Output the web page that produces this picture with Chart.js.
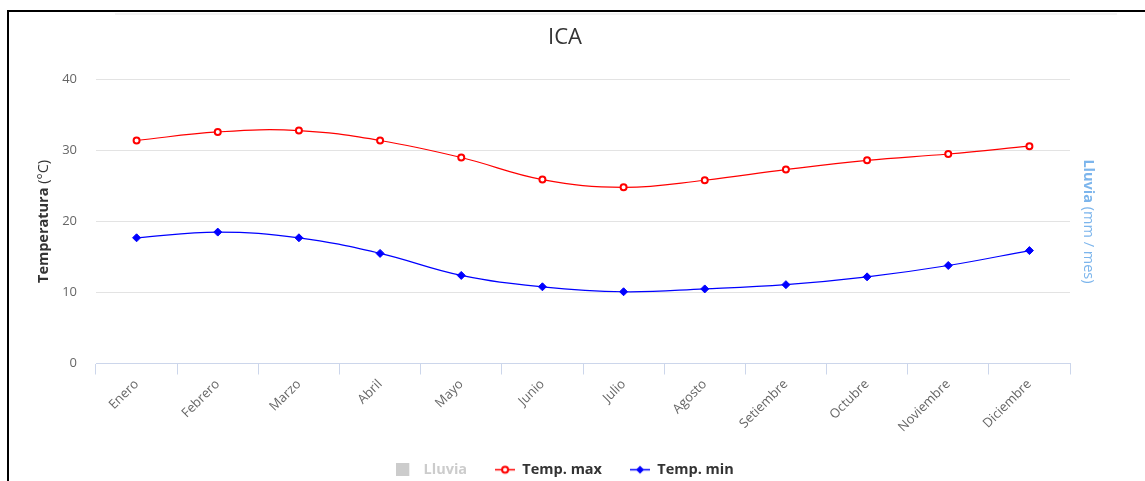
<!DOCTYPE html>
<html>
<head>
<meta charset="utf-8">
<script src="https://cdn.jsdelivr.net/npm/chart.js@4"></script>
<style>
  html, body { margin: 0; padding: 0; background: #fff; }
  #wrap { position: relative; width: 1145px; height: 481px; overflow: hidden; }
  #chartIca { position: absolute; left: 0; top: 0; }
  #frame { position: absolute; left: 7px; top: 10px; right: 0; bottom: 0;
           border-top: 2px solid #000; border-left: 2px solid #000; pointer-events: none; }
  #shade { position: absolute; left: 115px; top: 13px; width: 1002px; height: 2px;
           background: #f2f2f2; pointer-events: none; }
</style>
</head>
<body>
<div id="wrap">
  <canvas id="chartIca" width="1130" height="481"></canvas>
  <div id="shade"></div>
  <div id="frame"></div>
</div>
<script>
// datos
const meses = ["Enero", "Febrero", "Marzo", "Abril", "Mayo", "Junio",
    "Julio", "Agosto", "Setiembre", "Octubre", "Noviembre", "Diciembre"];
const tempMax = [31.4, 32.6, 32.8, 31.4, 29.0, 25.9, 24.8, 25.8, 27.3, 28.6, 29.5, 30.6];
const tempMin = [17.7, 18.5, 17.7, 15.5, 12.4, 10.8, 10.1, 10.5, 11.1, 12.2, 13.8, 15.9];
const lluvia = []; // serie oculta, sin valores visibles
const tempTicks = [0, 10, 20, 30, 40];

const FONT = "'Open Sans', sans-serif";

// simbolos de la leyenda (linea + marcador)
function legendIcon(kind) {
    const c = document.createElement("canvas");
    c.width = 20; c.height = 13;
    const g = c.getContext("2d");
    if (kind === "box") {
        g.fillStyle = "#cccccc";
        g.fillRect(0, 0, 13, 13);
        return c;
    }
    const col = kind === "max" ? "#ff0000" : "#0000ff";
    g.strokeStyle = col;
    g.lineWidth = 1.5;
    g.beginPath(); g.moveTo(0, 6.5); g.lineTo(20, 6.5); g.stroke();
    if (kind === "max") {
        g.beginPath(); g.arc(10, 6.5, 3, 0, Math.PI * 2);
        g.fillStyle = "#fff"; g.fill();
        g.lineWidth = 2; g.stroke();
    } else {
        g.fillStyle = col;
        g.beginPath();
        g.moveTo(10, 2.5); g.lineTo(14, 6.5); g.lineTo(10, 10.5); g.lineTo(6, 6.5);
        g.closePath(); g.fill();
    }
    return c;
}
const icons = { Lluvia: legendIcon("box"), "Temp. max": legendIcon("max"), "Temp. min": legendIcon("min") };

// titulos de ejes con parte en negrita
const axisTitles = {
    id: "axisTitles",
    afterDraw(chart) {
        const { ctx, chartArea } = chart;
        const cy = (chartArea.top + chartArea.bottom) / 2;
        function draw(x, rot, bold, normal, color) {
            ctx.save();
            ctx.translate(x, cy);
            ctx.rotate(rot);
            ctx.fillStyle = color;
            ctx.textBaseline = "middle";
            ctx.font = "bold 14.5px " + FONT;
            const w1 = ctx.measureText(bold).width;
            ctx.font = "14.5px " + FONT;
            const w2 = ctx.measureText(normal).width;
            let x0 = -(w1 + w2) / 2;
            ctx.font = "bold 14.5px " + FONT;
            ctx.fillText(bold, x0, 0);
            ctx.font = "14.5px " + FONT;
            ctx.fillText(normal, x0 + w1, 0);
            ctx.restore();
        }
        draw(44, -Math.PI / 2, "Temperatura", " (°C)", "#333333");
        draw(1088, Math.PI / 2, "Lluvia", " (mm / mes)", "#7cb5ec");
    }
};

const dataIca = {
    labels: meses,
    datasets: [
        {
            type: "bar",
            label: "Lluvia",
            data: lluvia,
            backgroundColor: "#7cb5ec",
            yAxisID: "y1",
            hidden: true,
        },
        {
            label: "Temp. max",
            data: tempMax,
            borderColor: "#ff0000",
            backgroundColor: "#ff0000",
            borderWidth: 1.2,
            tension: 0.4,
            pointStyle: "circle",
            pointRadius: 3,
            pointBorderWidth: 2,
            pointBackgroundColor: "#ffffff",
            pointBorderColor: "#ff0000",
            yAxisID: "y",
        },
        {
            label: "Temp. min",
            data: tempMin,
            borderColor: "#0000ff",
            backgroundColor: "#0000ff",
            borderWidth: 1.2,
            tension: 0.4,
            pointStyle: "rectRot",
            pointRadius: 4,
            pointBorderWidth: 1,
            pointBackgroundColor: "#0000ff",
            pointBorderColor: "#0000ff",
            yAxisID: "y",
        },
    ],
};

const configIca = {
    type: "line",
    data: dataIca,
    plugins: [axisTitles],
    options: {
        responsive: false,
        animation: false,
        layout: { padding: { left: 0, right: 0, top: 0, bottom: -6 } },
        plugins: {
            title: {
                display: true,
                text: "ICA",
                color: "#333333",
                font: { family: FONT, size: 22, weight: "normal" },
                padding: { top: 25, bottom: 28 },
            },
            legend: {
                position: "bottom",
                labels: {
                    usePointStyle: true,
                    pointStyleWidth: 20,
                    padding: 28,
                    font: { family: FONT, size: 14.5, weight: "bold" },
                    generateLabels(chart) {
                        const items = Chart.defaults.plugins.legend.labels.generateLabels(chart);
                        return items.map((it) => {
                            it.pointStyle = icons[it.text];
                            it.fontColor = it.hidden ? "#cccccc" : "#333333";
                            it.hidden = false;
                            return it;
                        });
                    },
                },
            },
            tooltip: { enabled: false },
        },
        scales: {
            x: {
                offset: true,
                grid: {
                    offset: true,
                    drawOnChartArea: false,
                    drawTicks: true,
                    tickLength: 11,
                    color: "#ccd6eb",
                },
                border: { color: "#ccd6eb" },
                ticks: {
                    autoSkip: false,
                    maxRotation: 45,
                    minRotation: 45,
                    padding: 2,
                    color: "#666666",
                    font: { family: FONT, size: 13 },
                },
                afterFit(scale) { scale.height = 71; },
            },
            y: {
                position: "left",
                min: tempTicks[0],
                max: tempTicks[tempTicks.length - 1],
                afterBuildTicks(scale) { scale.ticks = tempTicks.map((v) => ({ value: v })); },
                grid: {
                    drawTicks: false,
                    color: (c) => (c.tick && c.tick.value === 0 ? "#ccd6eb" : "#e3e3e3"),
                },
                border: { display: false },
                ticks: {
                    padding: 19,
                    color: "#666666",
                    font: { family: FONT, size: 13 },
                },
                afterFit(scale) { scale.width = 96; },
            },
            y1: {
                position: "right",
                grid: { display: false, drawTicks: false },
                border: { display: false },
                ticks: { display: false },
                afterFit(scale) { scale.width = 60; },
            },
        },
    },
};

var chartIca = new Chart(document.getElementById("chartIca"), configIca);
</script>
</body>
</html>
